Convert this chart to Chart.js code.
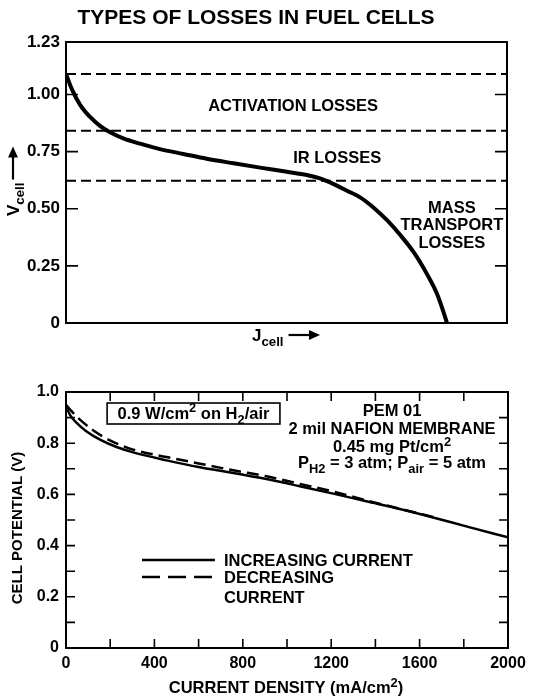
<!DOCTYPE html>
<html>
<head>
<meta charset="utf-8">
<title>Types of losses in fuel cells</title>
<script src="https://cdn.jsdelivr.net/npm/chart.js@4.4.1/dist/chart.umd.min.js"></script>
<style>
  html, body { margin: 0; padding: 0; background: #fff; }
  canvas { display: block; }
</style>
</head>
<body>
<canvas id="lossChart" width="533" height="350"></canvas>
<canvas id="polChart" width="533" height="347"></canvas>
<script>
// top panel: schematic loss curve (J axis has no units, 0..100)
const lossJ = [0, 1.3, 3.2, 5.4, 7.7, 10, 13, 16.8, 21.3, 26.6, 31.9, 38, 44, 50.1, 54.6, 57.6, 60.7, 63.7, 66.7, 69.7, 72.8, 75.8, 78.8, 81.8, 84.1, 85.6, 86.4];
const lossV = [1.09, 1.025, 0.955, 0.903, 0.863, 0.835, 0.808, 0.785, 0.761, 0.74, 0.719, 0.699, 0.68, 0.662, 0.648, 0.633, 0.608, 0.579, 0.55, 0.506, 0.45, 0.385, 0.311, 0.216, 0.129, 0.048, 0];
const lossLevels = [1.09, 0.842, 0.623];
const lossYTicks = [0, 0.25, 0.5, 0.75, 1.0, 1.23];
const lossYLabels = ["0", "0.25", "0.50", "0.75", "1.00", "1.23"];

// bottom panel: PEM 01 polarization curves
const incJ = [0, 18, 48, 93, 154, 229, 304, 455, 606, 757, 907, 1058, 1209, 1359, 1510, 1661, 1811, 2000];
const incV = [0.944, 0.911, 0.879, 0.846, 0.814, 0.785, 0.764, 0.733, 0.706, 0.684, 0.66, 0.632, 0.603, 0.573, 0.543, 0.51, 0.475, 0.432];
const decJ = [0, 26, 63, 124, 199, 304, 455, 606, 757, 907, 1058, 1209, 1359, 1510, 1661];
const decV = [0.95, 0.924, 0.892, 0.85, 0.811, 0.775, 0.746, 0.72, 0.694, 0.671, 0.641, 0.611, 0.577, 0.544, 0.512];

const FONT = '"Liberation Sans", Arial, Helvetica, sans-serif';
Chart.defaults.font.family = FONT;
Chart.defaults.font.weight = 'bold';
Chart.defaults.color = '#000';

const pts = (xs, ys) => xs.map((x, i) => ({ x: x, y: ys[i] }));

// text with sub/superscripts, y is the baseline
function richText(ctx, parts, x, y, size, align) {
    const font = s => `bold ${s}px ${FONT}`;
    let w = 0;
    const items = parts.map(p => {
        const t = typeof p === 'string' ? p : p[0];
        const mode = typeof p === 'string' ? '' : p[1];
        const s = mode ? size * 0.78 : size;
        ctx.font = font(s);
        const pw = ctx.measureText(t).width;
        w += pw;
        return { t, mode, s, pw };
    });
    let cx = align === 'center' ? x - w / 2 : (align === 'right' ? x - w : x);
    ctx.textAlign = 'left';
    ctx.textBaseline = 'alphabetic';
    items.forEach(it => {
        ctx.font = font(it.s);
        const dy = it.mode === 'sub' ? size * 0.32 : (it.mode === 'sup' ? -size * 0.38 : 0);
        ctx.fillText(it.t, cx, y + dy);
        cx += it.pw;
    });
    return w;
}

function arrow(ctx, x1, y1, x2, y2, head) {
    const a = Math.atan2(y2 - y1, x2 - x1);
    ctx.beginPath();
    ctx.moveTo(x1, y1);
    ctx.lineTo(x2 - Math.cos(a) * head * 0.8, y2 - Math.sin(a) * head * 0.8);
    ctx.stroke();
    ctx.beginPath();
    ctx.moveTo(x2, y2);
    ctx.lineTo(x2 - head * Math.cos(a) + head * 0.45 * Math.sin(a), y2 - head * Math.sin(a) - head * 0.45 * Math.cos(a));
    ctx.lineTo(x2 - head * Math.cos(a) - head * 0.45 * Math.sin(a), y2 - head * Math.sin(a) + head * 0.45 * Math.cos(a));
    ctx.closePath();
    ctx.fill();
}

// box around the plot area plus inward tick marks
function framePlugin(tickLen, xTicksToo) {
    return {
        id: 'frame',
        afterDraw(chart) {
            const { ctx, chartArea: a, scales } = chart;
            ctx.save();
            ctx.strokeStyle = '#000';
            ctx.lineWidth = 2;
            ctx.strokeRect(a.left, a.top, a.width, a.height);
            ctx.lineWidth = 1.6;
            ctx.beginPath();
            scales.y.ticks.forEach(t => {
                const y = scales.y.getPixelForValue(t.value);
                if (y <= a.top + 1 || y >= a.bottom - 1) return;
                ctx.moveTo(a.left, y); ctx.lineTo(a.left + tickLen, y);
                ctx.moveTo(a.right, y); ctx.lineTo(a.right - tickLen, y);
            });
            if (xTicksToo) {
                scales.x.ticks.forEach(t => {
                    const x = scales.x.getPixelForValue(t.value);
                    if (x <= a.left + 1 || x >= a.right - 1) return;
                    ctx.moveTo(x, a.bottom); ctx.lineTo(x, a.bottom - tickLen);
                    ctx.moveTo(x, a.top); ctx.lineTo(x, a.top + tickLen);
                });
            }
            ctx.stroke();
            ctx.restore();
        }
    };
}

const lossText = {
    id: 'lossText',
    afterDraw(chart) {
        const { ctx, scales: { x, y } } = chart;
        ctx.save();
        ctx.fillStyle = '#000';
        ctx.strokeStyle = '#000';
        richText(ctx, ["TYPES OF LOSSES IN FUEL CELLS"], 256, 24, 21, 'center');

        const label = (txt, jx, vy) => richText(ctx, [txt], x.getPixelForValue(jx), y.getPixelForValue(vy) + 6, 16.5, 'center');
        label("ACTIVATION LOSSES", 51.5, 0.956);
        label("IR LOSSES", 61.5, 0.728);
        label("MASS", 87.5, 0.509);
        label("TRANSPORT", 87.5, 0.434);
        label("LOSSES", 87.5, 0.355);

        // J cell axis title
        const w = richText(ctx, ["J", ["cell", "sub"]], 252, 341, 17, 'left');
        ctx.lineWidth = 2.2;
        arrow(ctx, 252 + w + 5, 335, 320, 335, 11);

        // V cell axis title, rotated
        ctx.translate(19, 216);
        ctx.rotate(-Math.PI / 2);
        const wv = richText(ctx, ["V", ["cell", "sub"]], 0, 0, 17, 'left');
        arrow(ctx, wv + 3, -6, wv + 36, -6, 11);
        ctx.restore();
    }
};

new Chart(document.getElementById('lossChart'), {
    type: 'line',
    data: {
        datasets: [
            {
                data: pts(lossJ, lossV),
                borderColor: '#000',
                borderWidth: 4,
                pointRadius: 0,
                cubicInterpolationMode: 'monotone'
            },
            ...lossLevels.map(v => ({
                data: [{ x: 0, y: v }, { x: 100, y: v }],
                borderColor: '#000',
                borderWidth: 2,
                borderDash: [10, 5],
                pointRadius: 0
            }))
        ]
    },
    options: {
        responsive: false,
        animation: false,
        layout: { padding: { left: 0, right: 26, top: 42, bottom: 27 } },
        plugins: { legend: { display: false }, tooltip: { enabled: false } },
        scales: {
            x: { type: 'linear', min: 0, max: 100, display: false },
            y: {
                type: 'linear',
                min: 0,
                max: 1.23,
                afterBuildTicks: s => { s.ticks = lossYTicks.map(v => ({ value: v })); },
                afterFit: s => { s.width = 66; },
                grid: { display: false, drawTicks: false },
                border: { display: false },
                ticks: {
                    padding: 6,
                    font: { size: 17, weight: 'bold' },
                    callback: (v, i) => lossYLabels[i]
                }
            }
        }
    },
    plugins: [framePlugin(12, false), lossText]
});

const polText = {
    id: 'polText',
    afterDraw(chart) {
        const { ctx, scales: { x, y } } = chart;
        ctx.save();
        ctx.fillStyle = '#000';
        ctx.strokeStyle = '#000';

        // boxed note
        const bx1 = x.getPixelForValue(186), bx2 = x.getPixelForValue(968);
        const by1 = y.getPixelForValue(0.957), by2 = y.getPixelForValue(0.875);
        ctx.lineWidth = 1.6;
        ctx.strokeRect(bx1, by1, bx2 - bx1, by2 - by1);
        richText(ctx, ["0.9 W/cm", ["2", "sup"], " on H", ["2", "sub"], "/air"], (bx1 + bx2) / 2, (by1 + by2) / 2 + 5, 16.5, 'center');

        // test conditions
        const cx = x.getPixelForValue(1475);
        richText(ctx, ["PEM 01"], cx, y.getPixelForValue(0.93) + 6, 16.5, 'center');
        richText(ctx, ["2 mil NAFION MEMBRANE"], cx, y.getPixelForValue(0.859) + 6, 16.5, 'center');
        richText(ctx, ["0.45 mg Pt/cm", ["2", "sup"]], cx, y.getPixelForValue(0.789) + 6, 16.5, 'center');
        richText(ctx, ["P", ["H", "sub"], ["2", "sub"], " = 3 atm; P", ["air", "sub"], " = 5 atm"], cx, y.getPixelForValue(0.719) + 4, 16.5, 'center');

        // legend
        const lx1 = x.getPixelForValue(344), lx2 = x.getPixelForValue(674), tx = x.getPixelForValue(715);
        const ly1 = y.getPixelForValue(0.344), ly2 = y.getPixelForValue(0.277);
        ctx.lineWidth = 2.5;
        ctx.beginPath(); ctx.moveTo(lx1, ly1); ctx.lineTo(lx2, ly1); ctx.stroke();
        ctx.setLineDash([18, 8]);
        ctx.beginPath(); ctx.moveTo(lx1, ly2); ctx.lineTo(lx2, ly2); ctx.stroke();
        ctx.setLineDash([]);
        richText(ctx, ["INCREASING CURRENT"], tx, ly1 + 6, 16.5, 'left');
        richText(ctx, ["DECREASING"], tx, ly2 + 6, 16.5, 'left');
        richText(ctx, ["CURRENT"], tx, y.getPixelForValue(0.199) + 6, 16.5, 'left');

        // axis titles
        richText(ctx, ["CURRENT DENSITY (mA/cm", ["2", "sup"], ")"], 286, 343, 16.5, 'center');
        ctx.translate(22, 178);
        ctx.rotate(-Math.PI / 2);
        richText(ctx, ["CELL POTENTIAL (V)"], 0, 0, 15, 'center');
        ctx.restore();
    }
};

new Chart(document.getElementById('polChart'), {
    type: 'line',
    data: {
        datasets: [
            {
                label: 'INCREASING CURRENT',
                data: pts(incJ, incV),
                borderColor: '#000',
                borderWidth: 2.5,
                pointRadius: 0,
                cubicInterpolationMode: 'monotone'
            },
            {
                label: 'DECREASING CURRENT',
                data: pts(decJ, decV),
                borderColor: '#000',
                borderWidth: 2.5,
                borderDash: [12, 6],
                pointRadius: 0,
                cubicInterpolationMode: 'monotone'
            }
        ]
    },
    options: {
        responsive: false,
        animation: false,
        layout: { padding: { left: 0, right: 25, top: 42, bottom: 24 } },
        plugins: { legend: { display: false }, tooltip: { enabled: false } },
        scales: {
            x: {
                type: 'linear',
                min: 0,
                max: 2000,
                afterFit: s => { s.height = 25; },
                grid: { display: false, drawTicks: false },
                border: { display: false },
                ticks: {
                    stepSize: 200,
                    autoSkip: false,
                    maxRotation: 0,
                    padding: 6,
                    font: { size: 16, weight: 'bold' },
                    callback: v => (v % 400 === 0 ? String(v) : '')
                }
            },
            y: {
                type: 'linear',
                min: 0,
                max: 1.0,
                afterFit: s => { s.width = 66; },
                grid: { display: false, drawTicks: false },
                border: { display: false },
                ticks: {
                    stepSize: 0.1,
                    autoSkip: false,
                    padding: 7,
                    font: { size: 16, weight: 'bold' },
                    callback: v => {
                        const k = Math.round(v * 10);
                        if (k % 2 !== 0) return '';
                        return k === 0 ? '0' : (k / 10).toFixed(1);
                    }
                }
            }
        }
    },
    plugins: [framePlugin(9, true), polText]
});
</script>
</body>
</html>
